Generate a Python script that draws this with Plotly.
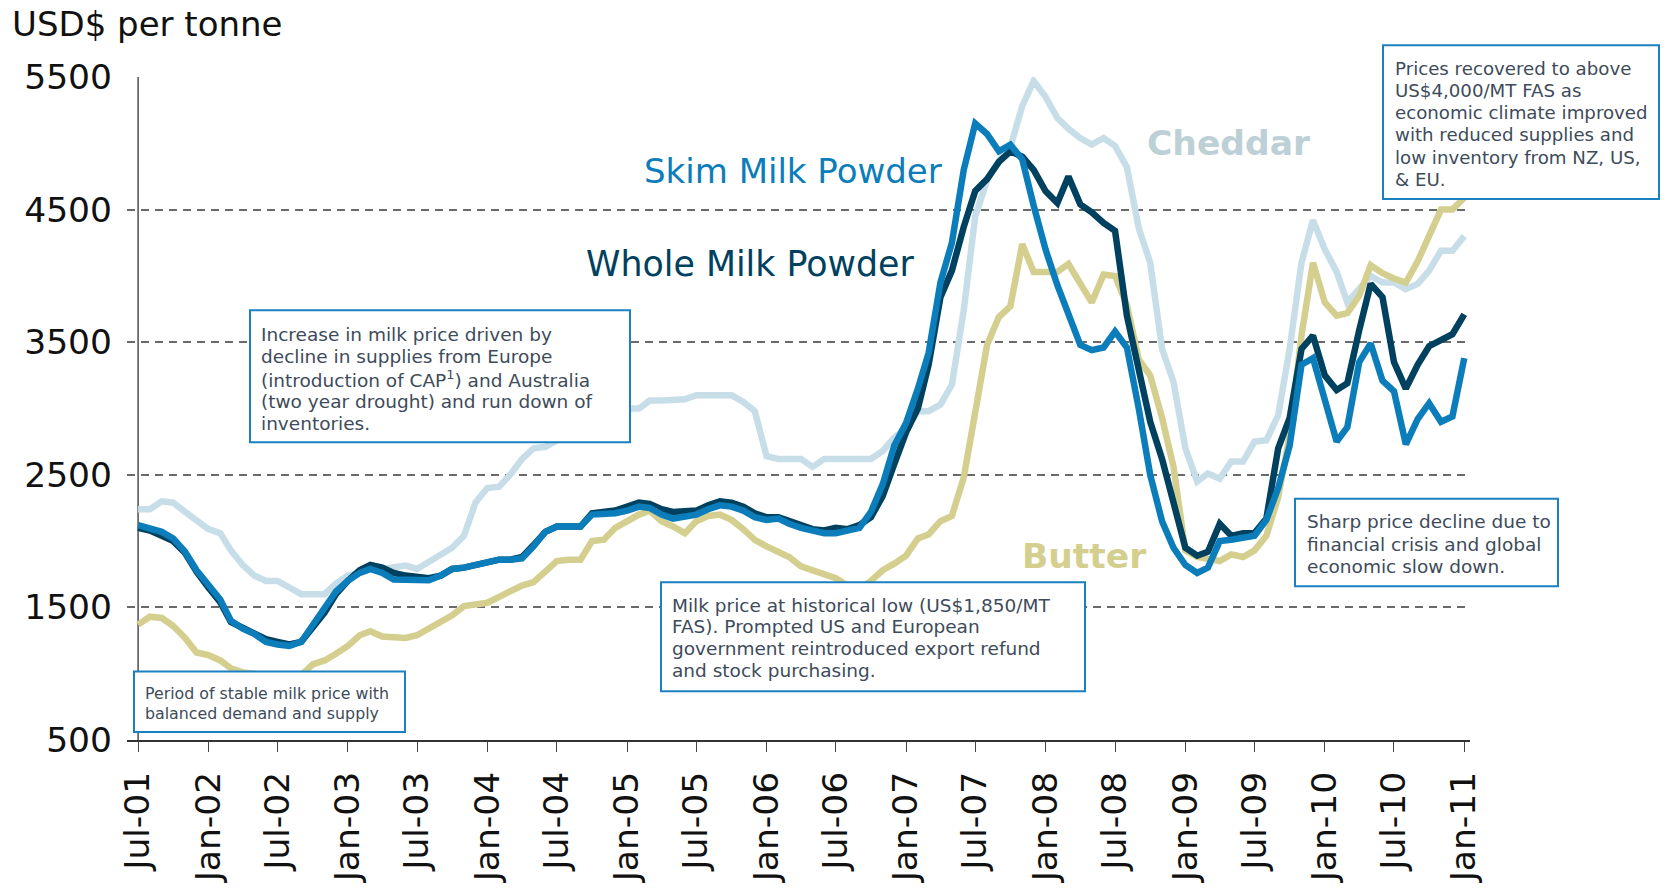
import pandas as pd
import plotly.graph_objects as go

# Monthly observations, Jul-2001 .. Jan-2011 (USD per tonne)
months = pd.date_range("2001-07-01", "2011-01-01", freq="MS")

tick_labels = ["Jul-01", "Jan-02", "Jul-02", "Jan-03", "Jul-03", "Jan-04", "Jul-04",
               "Jan-05", "Jul-05", "Jan-06", "Jul-06", "Jan-07", "Jul-07", "Jan-08",
               "Jul-08", "Jan-09", "Jul-09", "Jan-10", "Jul-10", "Jan-11"]
y_ticks = [500, 1500, 2500, 3500, 4500, 5500]

cheddar = [
    2240, 2240, 2300, 2290, 2220, 2150, 2090, 2060, 1930, 1820,
    1740, 1700, 1700, 1650, 1600, 1600, 1600, 1680, 1740, 1760,
    1785, 1790, 1800, 1815, 1790, 1840, 1890, 1950, 2040, 2290,
    2400, 2410, 2500, 2620, 2700, 2710, 2760, 2810, 2850, 2900,
    2950, 2980, 3000, 3000, 3060, 3060, 3060, 3070, 3100, 3100,
    3100, 3100, 3050, 2980, 2640, 2620, 2620, 2620, 2560, 2620,
    2620, 2620, 2620, 2620, 2680, 2780, 2850, 2980, 2980, 3030,
    3180, 3740, 4450, 4720, 4870, 4970, 5280, 5470, 5350, 5190,
    5110, 5040, 4990, 5040, 4980, 4820, 4360, 4100, 3450, 3200,
    2700, 2450, 2510, 2470, 2600, 2600, 2750, 2760, 2950, 3450,
    4100, 4420, 4200, 4030, 3800, 3910, 4000, 3950, 3950, 3900,
    3940, 4040, 4190, 4190, 4300,
]

skim_milk_powder = [
    2120, 2100, 2070, 2020, 1920, 1780, 1660, 1560, 1400, 1340,
    1300, 1240, 1220, 1210, 1240, 1360, 1480, 1620, 1700, 1760,
    1790, 1760, 1710, 1705, 1705, 1705, 1740, 1790, 1800, 1820,
    1840, 1860, 1860, 1870, 1960, 2070, 2110, 2110, 2110, 2200,
    2200, 2210, 2230, 2260, 2250, 2200, 2170, 2180, 2200, 2240,
    2270, 2260, 2230, 2180, 2160, 2170, 2130, 2100, 2080, 2060,
    2060, 2080, 2100, 2220, 2430, 2720, 2890, 3150, 3420, 3950,
    4250, 4800, 5150, 5070, 4940, 4990, 4880, 4530, 4200, 3930,
    3700, 3480, 3440, 3460, 3580, 3460, 3000, 2500, 2150, 1950,
    1820, 1760, 1800, 2000, 2010, 2020, 2040, 2160, 2400, 2720,
    3330, 3380, 3050, 2750, 2860, 3350, 3490, 3210, 3130, 2730,
    2920, 3040, 2900, 2940, 3380,
]

whole_milk_powder = [
    2100, 2080, 2040, 2000, 1910, 1770, 1650, 1540, 1390, 1350,
    1300, 1260, 1240, 1220, 1240, 1340, 1460, 1600, 1700, 1780,
    1820, 1800, 1760, 1740, 1730, 1720, 1740, 1790, 1800, 1820,
    1840, 1860, 1860, 1880, 1970, 2070, 2110, 2110, 2110, 2210,
    2220, 2230, 2260, 2290, 2280, 2240, 2220, 2220, 2230, 2270,
    2300, 2290, 2260, 2210, 2180, 2180, 2150, 2110, 2090, 2080,
    2100, 2090, 2120, 2180, 2340, 2580, 2820, 3000, 3330, 3840,
    4040, 4370, 4640, 4730, 4860, 4940, 4900, 4800, 4640, 4550,
    4750, 4540, 4480, 4400, 4340, 3700, 3300, 2900, 2620, 2290,
    1950, 1890, 1920, 2130, 2040, 2060, 2060, 2170, 2700, 2930,
    3450, 3550, 3250, 3140, 3190, 3590, 3940, 3840, 3350, 3150,
    3330, 3470, 3520, 3560, 3710,
]

butter = [
    1370, 1430, 1420, 1360, 1270, 1160, 1140, 1100, 1040, 1010,
    1000, 980, 960, 960, 990, 1070, 1100, 1150, 1210, 1290,
    1320, 1280, 1270, 1270, 1290, 1340, 1380, 1440, 1510, 1525,
    1535, 1580, 1620, 1665, 1690, 1770, 1850, 1860, 1860, 2000,
    2010, 2100, 2150, 2200, 2230, 2150, 2110, 2060, 2150, 2190,
    2200, 2160, 2090, 2010, 1960, 1920, 1880, 1810, 1780, 1750,
    1720, 1665, 1640, 1700, 1780, 1830, 1890, 2020, 2050, 2150,
    2190, 2480, 2950, 3480, 3690, 3770, 4240, 4030, 4030, 4030,
    4090, 3940, 3800, 4010, 4000, 3780, 3370, 3250, 2930, 2560,
    1930, 1880, 1870, 1850, 1900, 1880, 1930, 2040, 2330, 2800,
    3550, 4100, 3800, 3700, 3720, 3850, 4080, 4020, 3980, 3950,
    4110, 4310, 4500, 4500, 4590,
]

# colours
C_CHEDDAR = "#c7dee9"
C_CHEDDAR_TXT = "#bcd0d5"
C_SMP = "#0b7dba"
C_WMP = "#00415f"
C_BUTTER = "#d4cf8e"
C_BOX = "#1b80c1"
C_NOTE = "#3d4b5a"
FONT = "DejaVu Sans"

W, H = 1666, 895
PL, PR, PT, PB = 127, 1470, 77, 745


def px(x):
    return (x - PL) / (PR - PL)


def py(y):
    return (PB - y) / (PB - PT)


fig = go.Figure()
LW = 6.5
for name, vals, col in [
    ("Cheddar", cheddar, C_CHEDDAR),
    ("Butter", butter, C_BUTTER),
    ("Whole Milk Powder", whole_milk_powder, C_WMP),
    ("Skim Milk Powder", skim_milk_powder, C_SMP),
]:
    fig.add_trace(go.Scatter(x=months, y=vals, mode="lines", name=name,
                             line=dict(color=col, width=LW), hoverinfo="skip"))

shapes = []
# vertical value axis line
shapes.append(dict(type="line", xref="x", yref="y", x0=months[0], x1=months[0],
                   y0=y_ticks[0], y1=y_ticks[-1], line=dict(color="#222", width=1.2),
                   layer="below"))

annotations = []


def note_box(x0, x1, y0, y1, tx, ys, lines, size):
    shapes.append(dict(type="rect", xref="paper", yref="paper",
                       x0=px(x0), x1=px(x1), y0=py(y1), y1=py(y0),
                       fillcolor="white", line=dict(color=C_BOX, width=2), layer="above"))
    for yy, t in zip(ys, lines):
        annotations.append(dict(xref="paper", yref="paper", x=px(tx), y=py(yy),
                                xanchor="left", yanchor="middle", showarrow=False,
                                text=t, font=dict(family=FONT, size=size, color=C_NOTE)))


note_box(250, 630, 312, 445, 259, [336, 358.5, 381, 403.5, 426],
         ["Increase in milk price driven by",
          "decline in supplies from Europe",
          "(introduction of CAP<sup>1</sup>) and Australia",
          "(two year drought) and run down of",
          "inventories."], 18.5)
note_box(134, 405, 676, 737, 143, [698.5, 718.5],
         ["Period of stable milk price with",
          "balanced demand and supply"], 15.8)
note_box(661, 1085, 586, 696, 670, [609, 631, 653, 675],
         ["Milk price at historical low (US$1,850/MT",
          "FAS). Prompted US and European",
          "government reintroduced export refund",
          "and stock purchasing."], 18.5)
note_box(1295, 1558, 502, 590, 1305, [525, 548, 570],
         ["Sharp price decline due to",
          "financial crisis and global",
          "economic slow down."], 18.5)
note_box(1383, 1659, 45, 200, 1393, [68, 91, 113, 135, 158, 180],
         ["Prices recovered to above",
          "US$4,000/MT FAS as",
          "economic climate improved",
          "with reduced supplies and",
          "low inventory from NZ, US,",
          "& EU."], 18.2)

# series labels
for text, x, y, col, bold, size in [
    ("Skim Milk Powder", 642, 172, C_SMP, False, 34),
    ("Whole Milk Powder", 584, 265, C_WMP, False, 34.8),
    ("Cheddar", 1145, 144, C_CHEDDAR_TXT, True, 34.5),
    ("Butter", 1020, 560, C_BUTTER, True, 34.5),
]:
    annotations.append(dict(xref="paper", yref="paper", x=px(x), y=py(y),
                            xanchor="left", yanchor="middle", showarrow=False,
                            text=f"<b>{text}</b>" if bold else text,
                            font=dict(family=FONT, size=size, color=col)))

# unit label
annotations.append(dict(xref="paper", yref="paper", x=px(10), y=py(24),
                        xanchor="left", yanchor="middle", showarrow=False,
                        text="USD$ per tonne",
                        font=dict(family=FONT, size=34, color="#111")))

fig.update_layout(
    width=W, height=H,
    margin=dict(l=PL, r=W - PR, t=PT, b=H - PB, pad=0),
    paper_bgcolor="white", plot_bgcolor="white",
    showlegend=False,
    shapes=shapes, annotations=annotations,
    font=dict(family=FONT, color="#111"),
)
fig.update_xaxes(
    type="date",
    range=["2001-06-02", "2011-01-16"],
    tickvals=list(months[::6]), ticktext=tick_labels,
    tickangle=-90, ticks="outside", ticklen=10, tickwidth=1, tickcolor="#444",
    showline=True, linecolor="#333", linewidth=2,
    showgrid=False, zeroline=False,
    tickfont=dict(family=FONT, size=34.5, color="#111"),
    ticklabelstandoff=6,
)
fig.update_yaxes(
    range=[500, 5500], tickvals=y_ticks,
    showgrid=True, gridcolor="#6a6a6a", gridwidth=1.5, griddash="8px,6px",
    zeroline=False, showline=False, ticks="",
    tickfont=dict(family=FONT, size=34.5, color="#111"),
    ticklabelstandoff=14,
)

fig.write_html("out.html")
